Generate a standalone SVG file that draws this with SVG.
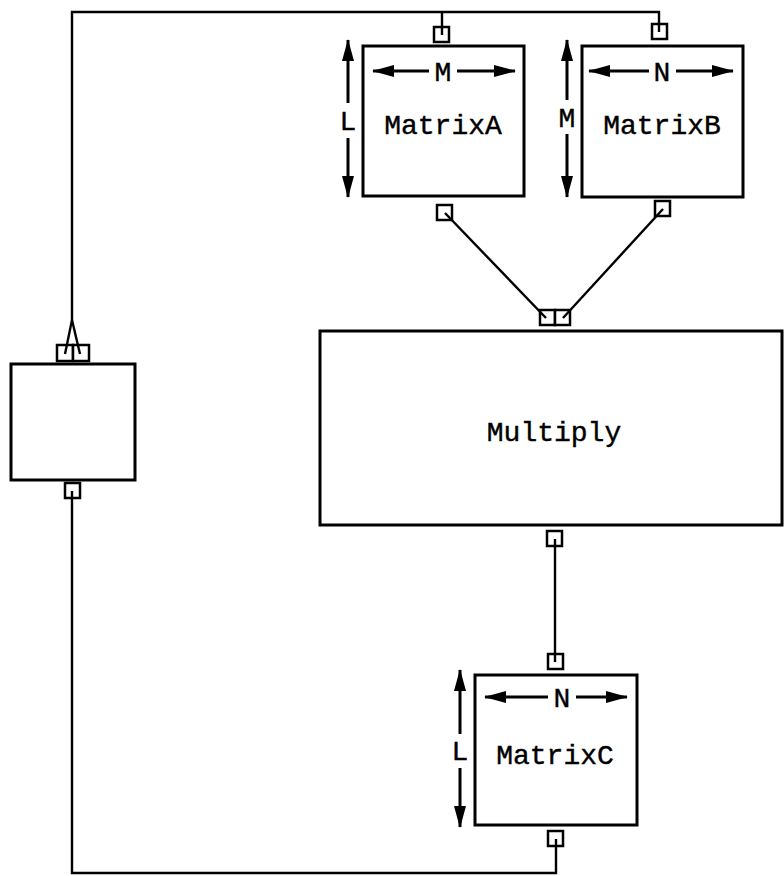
<svg xmlns="http://www.w3.org/2000/svg" width="784" height="876" viewBox="0 0 784 876">
<style>
.box{fill:#fff;stroke:#000;stroke-width:3}
.port{fill:#fff;stroke:#000;stroke-width:2.5}
.wire{fill:none;stroke:#000;stroke-width:2.4}
.dim{stroke:#000;stroke-width:3;fill:none}
.t{font-family:"Liberation Mono","Courier New",monospace;font-size:28px;fill:#000;stroke:#000;stroke-width:0.4;text-anchor:middle}
.d{font-family:"Liberation Mono","Courier New",monospace;font-size:28px;fill:#000;stroke:#000;stroke-width:0.4;text-anchor:middle}
</style>
<defs>
<marker id="ah" viewBox="0 0 22 12" refX="21" refY="6" markerWidth="22" markerHeight="12" markerUnits="userSpaceOnUse" orient="auto">
<path d="M0,0 L22,6 L0,12 z" fill="#000"/>
</marker>
</defs>
<rect width="784" height="876" fill="#fff"/>

<g id="matrixA">
<rect class="box" x="363" y="46" width="161" height="150"/>
<rect class="port" x="434" y="27" width="15" height="15"/>
<rect class="port" x="437" y="205" width="15" height="15"/>
<line class="dim" x1="429" y1="71" x2="373" y2="71" marker-end="url(#ah)"/>
<line class="dim" x1="457" y1="71" x2="515" y2="71" marker-end="url(#ah)"/>
<text class="d" x="443" y="81">M</text>
<line class="dim" x1="348" y1="103" x2="348" y2="40" marker-end="url(#ah)"/>
<line class="dim" x1="348" y1="138" x2="348" y2="197" marker-end="url(#ah)"/>
<text class="d" x="348" y="130">L</text>
<text class="t" x="443" y="134">MatrixA</text>
</g>

<g id="matrixB">
<rect class="box" x="582" y="46" width="161" height="151"/>
<rect class="port" x="652" y="24" width="15" height="15"/>
<rect class="port" x="655" y="201" width="15" height="15"/>
<line class="dim" x1="649" y1="71" x2="589" y2="71" marker-end="url(#ah)"/>
<line class="dim" x1="676" y1="71" x2="733" y2="71" marker-end="url(#ah)"/>
<text class="d" x="662" y="81">N</text>
<line class="dim" x1="567" y1="100" x2="567" y2="40" marker-end="url(#ah)"/>
<line class="dim" x1="567" y1="134" x2="567" y2="197" marker-end="url(#ah)"/>
<text class="d" x="567" y="127">M</text>
<text class="t" x="662" y="134">MatrixB</text>
</g>

<g id="multiply">
<rect class="box" x="320" y="331" width="462" height="194"/>
<rect class="port" x="540" y="310" width="15" height="15"/>
<rect class="port" x="555" y="310" width="15" height="15"/>
<rect class="port" x="547" y="531" width="15" height="15"/>
<text class="t" x="554" y="441">Multiply</text>
</g>

<g id="matrixC">
<rect class="box" x="475" y="675" width="162" height="150"/>
<rect class="port" x="548" y="654" width="15" height="15"/>
<rect class="port" x="548" y="831" width="15" height="15"/>
<line class="dim" x1="548" y1="697" x2="485" y2="697" marker-end="url(#ah)"/>
<line class="dim" x1="576" y1="697" x2="627" y2="697" marker-end="url(#ah)"/>
<text class="d" x="562" y="707">N</text>
<line class="dim" x1="460" y1="734" x2="460" y2="670" marker-end="url(#ah)"/>
<line class="dim" x1="460" y1="768" x2="460" y2="827" marker-end="url(#ah)"/>
<text class="d" x="460" y="760">L</text>
<text class="t" x="555" y="764">MatrixC</text>
</g>

<g id="loop">
<rect class="box" x="11" y="364" width="124" height="116"/>
<rect class="port" x="57" y="345" width="16" height="16"/>
<rect class="port" x="73" y="345" width="16" height="16"/>
<rect class="port" x="65" y="483" width="15" height="15"/>
</g>

<g id="connectors">
<path class="wire" d="M65,354 L72,320 L72,12 L659,12 L659,32"/>
<path class="wire" d="M72,320 L80,354"/>
<path class="wire" d="M442,12 L442,35"/>
<path class="wire" d="M445,213 L546,318"/>
<path class="wire" d="M663,209 L563,318"/>
<path class="wire" d="M555,539 L555,662"/>
<path class="wire" d="M556,839 L556,873 L72,873 L72,491"/>
</g>
</svg>
